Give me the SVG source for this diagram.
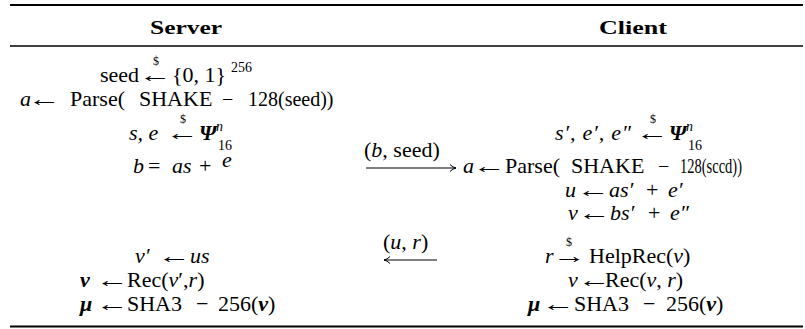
<svg xmlns="http://www.w3.org/2000/svg" width="805" height="329" viewBox="0 0 805 329" font-family="'Liberation Serif', serif">
<defs>
<style>
text { font-family: "Liberation Serif", serif; font-size: 22px; fill: #000; }
text.ar { font-size: 22px; }
.it { font-style: italic; }
.bi { font-style: italic; font-weight: bold; }
.num { font-size: 20px; }
.sup { font-size: 14px; }
.dol { font-size: 12px; }
.hd { font-weight: bold; font-size: 19px; }
.rule { stroke: #000; fill: none; }
.conn { stroke: #000; stroke-width: 1.2; fill: none; }
</style>
<marker id="headR" markerWidth="10" markerHeight="10" refX="8" refY="5" orient="auto" markerUnits="userSpaceOnUse">
<path d="M2,1.5 Q5,4.5 8,5 Q5,5.5 2,8.5" fill="none" stroke="#000" stroke-width="1"/>
</marker>
</defs>
<rect width="805" height="329" fill="#fff"/>
<g id="rules">
<line class="rule" x1="10" y1="5" x2="803" y2="5" stroke-width="2.2"/>
<line class="rule" x1="10" y1="46" x2="803" y2="46" stroke-width="1.4"/>
<line class="rule" x1="10" y1="326.5" x2="803" y2="326.5" stroke-width="2.2"/>
</g>
<g id="header">
<text class="hd" x="186" y="34" text-anchor="middle" textLength="72" lengthAdjust="spacingAndGlyphs">Server</text>
<text class="hd" x="633" y="34" text-anchor="middle" textLength="68" lengthAdjust="spacingAndGlyphs">Client</text>
</g>
<g id="server">
<g id="s-seed">
<text x="100" y="82">seed</text>
<text class="ar" transform="translate(139,82) scale(1.5,1)">←</text>
<text class="dol" x="153" y="65">$</text>
<text x="172" y="82">{0, 1}</text>
<text class="sup" x="231" y="72">256</text>
</g>
<g id="s-parse">
<text class="it" x="20" y="106">a</text>
<text class="ar" transform="translate(28,106) scale(1.5,1)">←</text>
<text x="70" y="106">Parse(</text>
<text x="139" y="106">SHAKE</text>
<text class="num" x="222" y="106">−</text>
<text class="num" x="248" y="106">128(seed))</text>
</g>
<g id="s-se">
<text class="it" x="129" y="140">s, e</text>
<text class="ar" transform="translate(166,140) scale(1.5,1)">←</text>
<text class="dol" x="180" y="123">$</text>
<text class="bi" x="199" y="140">Ψ</text>
<text class="it sup" x="216" y="131">n</text>
<text class="sup" x="218" y="150">16</text>
</g>
<g id="s-b">
<text class="it" x="133" y="173">b</text>
<text x="148" y="173">=</text>
<text class="it" x="172" y="173">as</text>
<text x="199" y="173">+</text>
<text class="it" x="222" y="167">e</text>
</g>
<g id="s-vp">
<text class="it" x="135" y="263">v′</text>
<text class="ar" transform="translate(158,263) scale(1.5,1)">←</text>
<text class="it" x="190" y="263">us</text>
</g>
<g id="s-rec">
<text class="bi" x="80" y="287">ν</text>
<text class="ar" transform="translate(96,287) scale(1.5,1)">←</text>
<text x="127" y="287">Rec(<tspan class="it">v</tspan>′,<tspan class="it">r</tspan>)</text>
</g>
<g id="s-sha">
<text class="bi" x="80" y="311">μ</text>
<text class="ar" transform="translate(96,311) scale(1.5,1)">←</text>
<text x="127" y="311">SHA3</text>
<text x="196" y="311">−</text>
<text x="218" y="311">256(<tspan class="bi">ν</tspan>)</text>
</g>
</g>
<g id="client">
<g id="c-se">
<text class="it" x="555" y="140" textLength="76" lengthAdjust="spacing">s′, e′, e″</text>
<text class="ar" transform="translate(636,140) scale(1.5,1)">←</text>
<text class="dol" x="650" y="123">$</text>
<text class="bi" x="669" y="140">Ψ</text>
<text class="it sup" x="686" y="131">n</text>
<text class="sup" x="688" y="150">16</text>
</g>
<g id="c-parse">
<text class="it" x="463" y="173">a</text>
<text class="ar" transform="translate(473,173) scale(1.5,1)">←</text>
<text x="505" y="173">Parse(</text>
<text x="571" y="173">SHAKE</text>
<text class="num" x="658" y="173">−</text>
<text class="num" x="680" y="173" textLength="62" lengthAdjust="spacingAndGlyphs">128(sccd))</text>
</g>
<g id="c-u">
<text class="it" x="565" y="197">u</text>
<text class="ar" transform="translate(577,197) scale(1.5,1)">←</text>
<text class="it" x="609" y="197">as′</text>
<text x="646" y="197">+</text>
<text class="it" x="668" y="197">e′</text>
</g>
<g id="c-v">
<text class="it" x="568" y="220">v</text>
<text class="ar" transform="translate(578,220) scale(1.5,1)">←</text>
<text class="it" x="610" y="220">bs′</text>
<text x="648" y="220">+</text>
<text class="it" x="670" y="220">e″</text>
</g>
<g id="c-help">
<text class="it" x="545" y="263">r</text>
<text class="ar" transform="translate(553,263) scale(1.5,1)">→</text>
<text class="dol" x="566" y="246">$</text>
<text x="589" y="263">HelpRec(<tspan class="it">v</tspan>)</text>
</g>
<g id="c-rec">
<text class="it" x="568" y="287">v</text>
<text class="ar" transform="translate(578,287) scale(1.5,1)">←</text>
<text x="605" y="287">Rec(<tspan class="it">v</tspan>, <tspan class="it">r</tspan>)</text>
</g>
<g id="c-sha">
<text class="bi" x="528" y="311">μ</text>
<text class="ar" transform="translate(542,311) scale(1.5,1)">←</text>
<text x="574" y="311">SHA3</text>
<text x="643" y="311">−</text>
<text x="666" y="311">256(<tspan class="bi">ν</tspan>)</text>
</g>
</g>
<g id="connectors">
<line class="conn" x1="366" y1="168" x2="456" y2="168" marker-end="url(#headR)"/>
<text x="364" y="157">(<tspan class="it">b</tspan>, seed)</text>
<line class="conn" x1="437" y1="260" x2="384" y2="260" marker-end="url(#headR)"/>
<text x="383" y="249">(<tspan class="it">u</tspan>, <tspan class="it">r</tspan>)</text>
</g>
</svg>
